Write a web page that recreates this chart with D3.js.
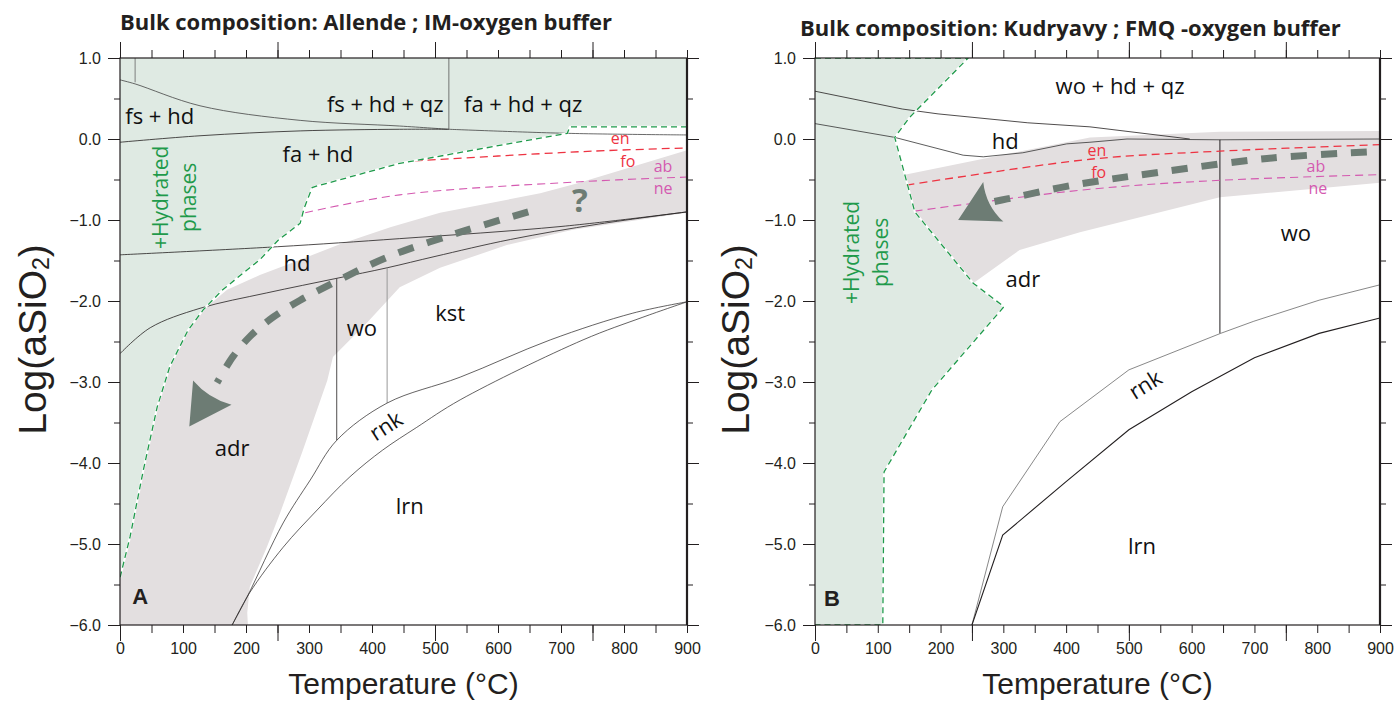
<!DOCTYPE html>
<html>
<head>
<meta charset="utf-8">
<script src="https://cdn.jsdelivr.net/npm/d3@7"></script>
<style>
  body { margin: 0; background: #fff; }
  svg { display: block; }
</style>
</head>
<body>
<script>
//Data///////////////////////////////////////////////////////////////////////////////////////////
// all points are [temperature (°C), log(aSiO2)]

const tempTicks = [0, 100, 200, 300, 400, 500, 600, 700, 800, 900];
const tempLongTicks = [0, 250, 500, 750];
const logTicks = [1, 0, -1, -2, -3, -4, -5, -6];
const titles = ["Bulk composition: Allende ; IM-oxygen buffer",
                "Bulk composition: Kudryavy ; FMQ -oxygen buffer"];

// ---- panel A (Allende, IM buffer)
const hydratedA = [[900, 0.15], [714, 0.15], [710, 0.07], [444, -0.30], [313, -0.58], [305, -0.60],
  [292, -0.86], [286, -1.04], [251, -1.25], [222, -1.49], [163, -1.86], [132, -2.11], [108, -2.36],
  [79, -2.81], [59, -3.31], [37, -4.09], [16, -4.91], [3, -5.32], [0, -5.42]];
const bandTopA = [[0, -6], [0, -5.42], [3, -5.32], [16, -4.91], [37, -4.09], [59, -3.31], [79, -2.81],
  [108, -2.36], [132, -2.11], [170, -1.86], [222, -1.68], [286, -1.49], [349, -1.30], [429, -1.09],
  [508, -0.91], [667, -0.67], [725, -0.55], [900, -0.14]];
const bandBottomA = [[900, -0.91], [719, -1.12], [614, -1.31], [508, -1.59], [444, -1.83], [392, -2.27],
  [338, -2.69], [329, -2.98], [290, -3.85], [254, -4.62], [233, -5.04], [206, -5.53], [202, -5.85], [203, -6]];
const tickLineA = [[24, 1.0], [24, 0.70]];
const fsHdTopA = [[0, 0.73], [24, 0.68], [127, 0.41], [286, 0.23], [444, 0.16], [522, 0.12]];
const faHdTopA = [[0, -0.04], [127, 0.04], [286, 0.10], [444, 0.12], [522, 0.12]];
const qzBaseA = [[522, 0.12], [710, 0.07], [900, 0.05]];
const qzSplitA = [[522, 1.0], [522, 0.12]];
const hdTopA = [[0, -1.43], [250, -1.33], [444, -1.23], [700, -1.08], [900, -0.90]];
const hdBaseA = [[0, -2.65], [48, -2.33], [127, -2.09], [233, -1.90], [344, -1.72], [424, -1.59],
  [500, -1.45], [620, -1.24], [760, -1.05], [900, -0.90]];
const woLeftA = [[344, -1.72], [344, -3.72]];
const woRightA = [[424, -1.59], [424, -3.26]];
const rnkTopA = [[178, -6], [202, -5.65], [259, -4.74], [302, -4.21], [344, -3.72], [424, -3.26],
  [540, -2.94], [683, -2.48], [814, -2.15], [900, -2.01]];
const rnkBaseA = [[178, -6], [206, -5.60], [259, -5.04], [313, -4.58], [365, -4.17], [417, -3.84],
  [471, -3.56], [540, -3.22], [735, -2.48], [830, -2.20], [900, -2.01]];
const enFoA = [[468, -0.27], [600, -0.21], [750, -0.15], [900, -0.11]];
const abNeA = [[294, -0.91], [444, -0.69], [725, -0.53], [900, -0.47]];
const pathA = [[648, -0.90], [540, -1.15], [424, -1.46], [338, -1.78], [286, -1.99], [243, -2.20],
  [206, -2.44], [179, -2.69], [154, -3.01]];
const headA = [[110, -3.55], [116, -2.98], [140, -3.20], [177, -3.28]];   // tip, wing, notch, wing
const labelsA = [
  { t: "fs + hd", x: 63, y: 0.30 }, { t: "fs + hd + qz", x: 421, y: 0.44 },
  { t: "fa + hd + qz", x: 640, y: 0.44 }, { t: "fa + hd", x: 314, y: -0.17 },
  { t: "hd", x: 281, y: -1.52 }, { t: "wo", x: 384, y: -2.32 }, { t: "kst", x: 524, y: -2.14 },
  { t: "adr", x: 178, y: -3.80 }, { t: "rnk", x: 421, y: -3.53, rot: -33 }, { t: "lrn", x: 460, y: -4.52 }
];
const phaseA = { en: [794, 0.01], fo: [806, -0.27], ab: [862, -0.33], ne: [862, -0.61],
                 hyd: [63, -0.72], pha: [108, -0.72], tag: [32, -5.65], q: [730, -0.75] };

// ---- panel B (Kudryavy, FMQ buffer)
const hydratedB = [[0, 1], [244, 1], [151, 0.27], [127, 0.02], [143, -0.44], [159, -0.90], [252, -1.78],
  [301, -2.07], [186, -3.10], [110, -4.11], [108, -6], [0, -6]];
const bandTopB = [[143, -0.44], [438, 0.02], [645, 0.09], [900, 0.10]];
const bandBottomB = [[900, -0.54], [645, -0.72], [422, -1.15], [326, -1.37], [252, -1.78], [159, -0.90]];
const qzLineB = [[0, 0.59], [139, 0.37], [196, 0.31], [339, 0.20], [438, 0.15], [597, 0.0]];
const hdBaseB = [[0, 0.19], [127, 0.02], [236, -0.20], [268, -0.22], [331, -0.17], [401, -0.06],
  [438, -0.04], [497, 0.0], [645, -0.01], [900, 0.0]];
const woSplitB = [[645, -0.01], [645, -2.40]];
const rnkTopB = [[250, -6], [299, -4.54], [390, -3.49], [500, -2.85], [646, -2.40], [699, -2.25],
  [803, -1.99], [900, -1.80]];
const rnkBaseB = [[250, -6], [299, -4.89], [400, -4.23], [500, -3.59], [600, -3.12], [700, -2.70],
  [803, -2.40], [900, -2.21]];
const enFoB = [[146, -0.57], [438, -0.25], [645, -0.15], [900, -0.07]];
const abNeB = [[159, -0.89], [438, -0.62], [645, -0.51], [900, -0.44]];
const pathB = [[879, -0.16], [720, -0.24], [549, -0.41], [411, -0.57], [306, -0.74], [274, -0.79]];
const headB = [[228, -1.0], [268, -0.53], [272, -0.82], [300, -1.02]];
const labelsB = [
  { t: "wo + hd + qz", x: 486, y: 0.67 }, { t: "hd", x: 303, y: -0.01 }, { t: "wo", x: 766, y: -1.15 },
  { t: "adr", x: 331, y: -1.72 }, { t: "rnk", x: 525, y: -3.02, rot: -32 }, { t: "lrn", x: 521, y: -5.01 }
];
const phaseB = { en: [449, -0.13], fo: [452, -0.41], ab: [798, -0.33], ne: [801, -0.61],
                 hyd: [57, -1.40], pha: [104, -1.40], tag: [27, -5.67], q: null };

//Style//////////////////////////////////////////////////////////////////////////////////////////
var ink = "#231f20",
    greenFill = "#dfeae3", greenLine = "#1f9a4b",
    bandFill = "#e3dfe0", arrowCol = "#6d7c74",
    red = "#ee3342", magenta = "#d459b0";
var labelFont = "'Open Sans', 'Noto Sans', sans-serif",
    axisFont = "'Liberation Sans', Arial, sans-serif";

var svg = d3.select("body").append("svg")
    .attr("width", 1396)
    .attr("height", 702);

var plotTop = 58, plotBottom = 625;

var panels = [
  { id: "A", left: 120, right: 687, title: titles[0], titleX: 120, titleY: 30, ytitleX: 32,
    labels: labelsA, phase: phaseA },
  { id: "B", left: 815, right: 1380, title: titles[1], titleX: 800, titleY: 36, ytitleX: 735,
    labels: labelsB, phase: phaseB }
];

panels.forEach(function(p) {
  var x = d3.scaleLinear().domain([0, 900]).range([p.left, p.right]);
  var y = d3.scaleLinear().domain([-6, 1]).range([plotBottom, plotTop]);

  var line = d3.line().x(d => x(d[0])).y(d => y(d[1]));
  var smooth = d3.line().x(d => x(d[0])).y(d => y(d[1])).curve(d3.curveCatmullRom.alpha(0.5));

  var g = svg.append("g");
  svg.append("clipPath").attr("id", "clip" + p.id)
    .append("rect").attr("x", p.left).attr("y", plotTop)
    .attr("width", p.right - p.left).attr("height", plotBottom - plotTop);
  var plot = g.append("g").attr("clip-path", "url(#clip" + p.id + ")");

  function stroke(pts, opt) {
    return plot.append("path")
      .attr("d", (opt.smooth ? smooth : line)(pts))
      .attr("fill", "none")
      .attr("stroke", opt.color || ink)
      .attr("stroke-width", opt.width || 0.8)
      .attr("stroke-dasharray", opt.dash || null);
  }

  // hydrated field + grey band
  if (p.id === "A") {
    var poly = [[0, 1], [900, 1]].concat(hydratedA);
    plot.append("path").attr("d", line(poly) + "Z").attr("fill", greenFill);
    plot.append("path").attr("d", line(bandTopA.concat(bandBottomA)) + "Z").attr("fill", bandFill);
  } else {
    plot.append("path").attr("d", line(hydratedB) + "Z").attr("fill", greenFill);
    plot.append("path").attr("d", line(bandTopB.concat(bandBottomB)) + "Z").attr("fill", bandFill);
  }

  // phase boundaries
  if (p.id === "A") {
    stroke(tickLineA, { color: "#666" });
    stroke(fsHdTopA, { smooth: true, color: "#444" });
    stroke(faHdTopA, { smooth: true });
    stroke(qzBaseA, { smooth: true, color: "#444" });
    stroke(qzSplitA, { color: "#555" });
    stroke(hdTopA, { smooth: true });
    stroke(hdBaseA, { smooth: true });
    stroke(woLeftA, {});
    stroke(woRightA, { color: "#999", width: 1 });
    stroke(rnkTopA, { smooth: true, width: 0.7 });
    stroke(rnkBaseA, { smooth: true, width: 0.7 });
    stroke(enFoA, { smooth: true, color: red, width: 1.3, dash: "8,5" });
    stroke(abNeA, { smooth: true, color: magenta, width: 1.1, dash: "8,5" });
  } else {
    stroke(qzLineB, {});
    stroke(hdBaseB, { color: "#333" });
    stroke(woSplitB, { width: 1 });
    stroke(rnkTopB, { color: "#555", width: 0.7 });
    stroke(rnkBaseB, { width: 1.1 });
    stroke(enFoB, { smooth: true, color: red, width: 1.3, dash: "8,5" });
    stroke(abNeB, { smooth: true, color: magenta, width: 1.1, dash: "8,5" });
  }

  // hydrated boundary (white rim under the green dashes)
  var rim = p.id === "A" ? hydratedA : hydratedB;
  stroke(rim, { color: "#fff", width: 2 });
  stroke(rim, { color: greenLine, width: 1.3, dash: "6,4" });

  // reaction path arrow
  var path = p.id === "A" ? pathA : pathB,
      head = p.id === "A" ? headA : headB;
  stroke(path, { smooth: true, color: arrowCol, width: 7, dash: "16,14" });
  var hp = head.map(d => [x(d[0]), y(d[1])]);
  plot.append("path")
    .attr("d", "M" + hp[0] + "L" + hp[1] + "Q" + hp[2] + " " + hp[3] + "Z")
    .attr("fill", arrowCol);

  // field labels
  p.labels.forEach(function(l) {
    plot.append("text")
      .attr("transform", "translate(" + x(l.x) + "," + y(l.y) + ")" + (l.rot ? " rotate(" + l.rot + ")" : ""))
      .attr("text-anchor", "middle").attr("dominant-baseline", "central")
      .style("font-family", labelFont).style("font-size", "22px").attr("fill", "#111")
      .text(l.t);
  });
  var ph = p.phase;
  [["en", red], ["fo", red], ["ab", magenta], ["ne", magenta]].forEach(function(e) {
    plot.append("text")
      .attr("x", x(ph[e[0]][0])).attr("y", y(ph[e[0]][1]))
      .attr("text-anchor", "middle").attr("dominant-baseline", "central")
      .style("font-family", labelFont).style("font-size", "16px").attr("fill", e[1])
      .text(e[0]);
  });
  [["hyd", "+Hydrated"], ["pha", "phases"]].forEach(function(e) {
    plot.append("text")
      .attr("transform", "translate(" + x(ph[e[0]][0]) + "," + y(ph[e[0]][1]) + ") rotate(-90)")
      .attr("text-anchor", "middle").attr("dominant-baseline", "central")
      .style("font-family", labelFont).style("font-size", "21px").attr("fill", greenLine)
      .text(e[1]);
  });
  plot.append("text")
    .attr("x", x(ph.tag[0])).attr("y", y(ph.tag[1]))
    .attr("text-anchor", "middle").attr("dominant-baseline", "central")
    .style("font-family", axisFont).style("font-size", "22px").style("font-weight", "bold")
    .attr("fill", ink).text(p.id);
  if (ph.q) {
    plot.append("text")
      .attr("x", x(ph.q[0])).attr("y", y(ph.q[1]))
      .attr("text-anchor", "middle").attr("dominant-baseline", "central")
      .style("font-family", labelFont).style("font-size", "33px").style("font-weight", "bold")
      .attr("fill", arrowCol).text("?");
  }

  // axes: every 50 °C short, 0/250/500/750 long; every 0.5 short, integers long
  var minorT = d3.range(0, 901, 50), minorL = d3.range(-6, 1.01, 0.5);
  function axis(gen, tr, vals, size, fmt, pad) {
    var a = g.append("g").attr("transform", tr)
      .call(gen.tickValues(vals).tickSize(size).tickPadding(pad || 3).tickFormat(fmt || ""));
    a.select(".domain").remove();
    a.selectAll("line").attr("stroke", ink).attr("stroke-width", 1);
    a.selectAll("text").style("font-family", axisFont).style("font-size", "16px").attr("fill", ink);
    return a;
  }
  axis(d3.axisBottom(x), "translate(0," + plotBottom + ")", minorT, 8, d => (tempTicks.indexOf(d) >= 0 ? d : ""), 10);
  axis(d3.axisBottom(x), "translate(0," + plotBottom + ")", tempLongTicks, 16);
  axis(d3.axisTop(x), "translate(0," + plotTop + ")", minorT, 8);
  axis(d3.axisTop(x), "translate(0," + plotTop + ")", tempLongTicks, 16);
  axis(d3.axisLeft(y), "translate(" + p.left + ",0)", minorL, 6,
       d => (logTicks.indexOf(d) >= 0 ? d3.format(".1f")(d) : ""), 13);
  axis(d3.axisLeft(y), "translate(" + p.left + ",0)", logTicks, 12);
  axis(d3.axisRight(y), "translate(" + p.right + ",0)", minorL, 6);
  axis(d3.axisRight(y), "translate(" + p.right + ",0)", logTicks, 12);

  // frame
  g.append("rect").attr("x", p.left).attr("y", plotTop)
    .attr("width", p.right - p.left).attr("height", plotBottom - plotTop)
    .attr("fill", "none").attr("stroke", ink).attr("stroke-width", 1.2);
  g.append("line").attr("x1", p.right).attr("x2", p.right).attr("y1", plotTop).attr("y2", plotBottom)
    .attr("stroke", ink).attr("stroke-width", 2.2);

  // titles
  g.append("text").attr("x", p.titleX).attr("y", p.titleY)
    .style("font-family", labelFont).style("font-size", "22px").style("font-weight", "bold")
    .attr("fill", ink).text(p.title);
  g.append("text").attr("x", (p.left + p.right) / 2).attr("y", 694)
    .attr("text-anchor", "middle")
    .style("font-family", axisFont).style("font-size", "30px").attr("fill", ink)
    .text("Temperature (°C)");
  var yt = g.append("text")
    .attr("transform", "translate(" + p.ytitleX + "," + ((plotTop + plotBottom) / 2 - 2) + ") rotate(-90)")
    .attr("text-anchor", "middle").attr("dominant-baseline", "central")
    .style("font-family", axisFont).style("font-size", "39px").attr("fill", ink);
  yt.append("tspan").text("Log(aSiO");
  yt.append("tspan").attr("dy", 9).style("font-size", "23px").text("2");
  yt.append("tspan").attr("dy", -9).text(")");
});
</script>
</body>
</html>
